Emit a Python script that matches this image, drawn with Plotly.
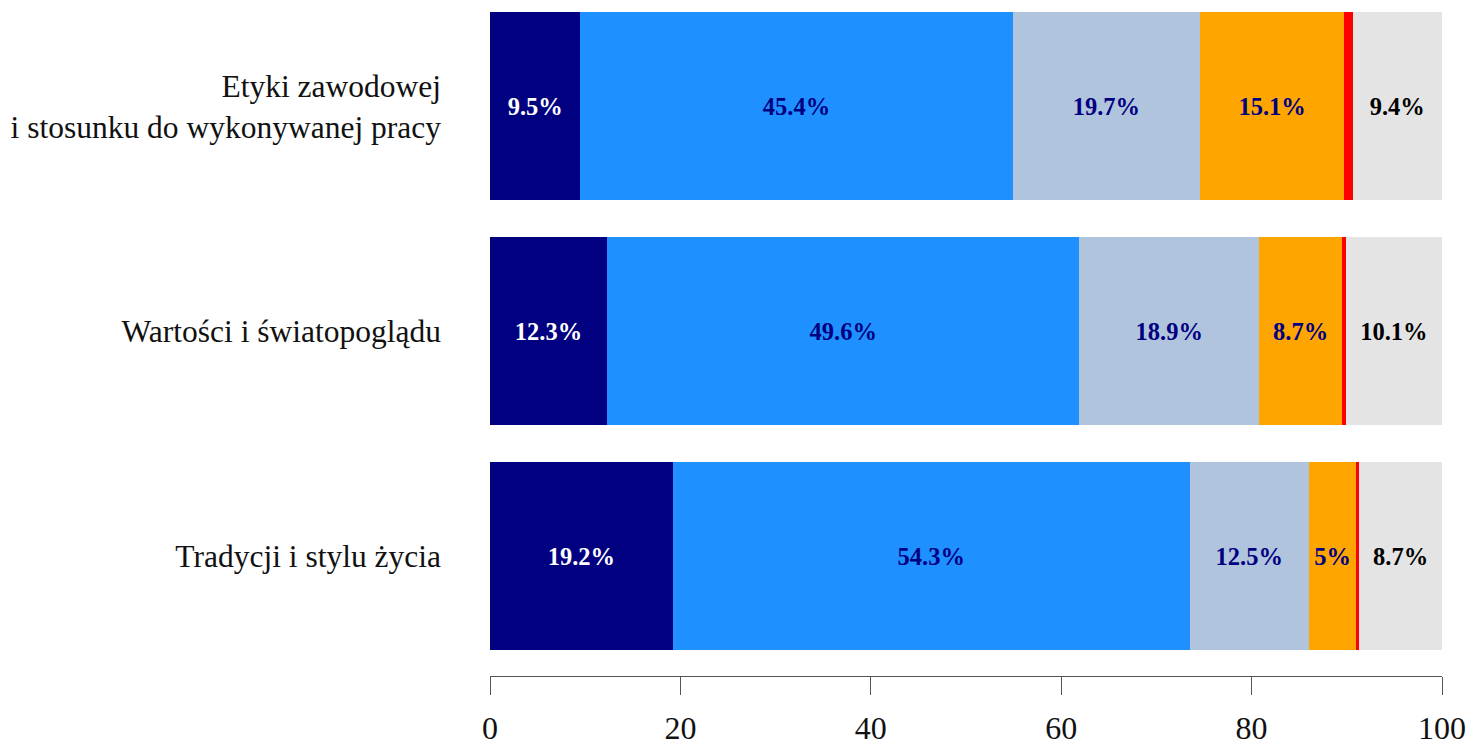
import plotly.graph_objects as go

# Categories listed bottom to top
categories = [
    "Tradycji i stylu życia",
    "Wartości i światopoglądu",
    "Etyki zawodowej<br>i stosunku do wykonywanej pracy",
]

navy_vals = [19.2, 12.3, 9.5]
dodger_vals = [54.3, 49.6, 45.4]
steel_vals = [12.5, 18.9, 19.7]
orange_vals = [5.0, 8.7, 15.1]
red_vals = [0.3, 0.4, 0.9]
gray_vals = [8.7, 10.1, 9.4]

x_ticks = [0, 20, 40, 60, 80, 100]

series = [
    ("s1", navy_vals, "#000080", "white", True),
    ("s2", dodger_vals, "#1E90FF", "#000080", True),
    ("s3", steel_vals, "#B0C4DE", "#000080", True),
    ("s4", orange_vals, "#FFA500", "#000080", True),
    ("s5", red_vals, "#FF0000", "#000080", False),
    ("s6", gray_vals, "#E4E4E4", "black", True),
]

fig = go.Figure()
for name, vals, color, tcolor, labelled in series:
    texts = [f"{v:g}%" if labelled else "" for v in vals]
    fig.add_trace(go.Bar(
        y=categories, x=vals, orientation="h", name=name,
        marker=dict(color=color, line=dict(width=0)),
        text=texts, textposition="inside", insidetextanchor="middle",
        textangle=0, constraintext="none",
        textfont=dict(family="Liberation Serif", size=24.5, color=tcolor, weight="bold"),
        showlegend=False, hoverinfo="skip",
    ))

fig.update_layout(
    barmode="stack",
    bargap=0.164,
    width=1470, height=748,
    margin=dict(l=490, r=28, t=0, b=72, autoexpand=False),
    paper_bgcolor="white", plot_bgcolor="white",
    font=dict(family="Liberation Serif", color="#111111"),
    uniformtext=dict(mode=False),
)
fig.update_xaxes(
    range=[0, 100], tickvals=x_ticks, ticks="outside", ticklen=18,
    tickcolor="#555555", tickwidth=1, showline=True, linecolor="#555555",
    linewidth=1, showgrid=False, zeroline=False, automargin=False,
    tickfont=dict(family="Liberation Serif", size=32, color="#111111"),
    ticklabelstandoff=6,
)
fig.update_yaxes(
    type="category", categoryorder="array", categoryarray=categories,
    range=[-0.533, 2.473], showline=False, ticks="", showgrid=False,
    zeroline=False, automargin=False,
    tickfont=dict(family="Liberation Serif", size=31.5, color="#111111"),
    ticklabelstandoff=48,
)

fig.write_html(
    "out.html",
    config={"displayModeBar": False},
    post_script="document.body.style.margin='0';document.body.style.overflow='hidden';",
)
